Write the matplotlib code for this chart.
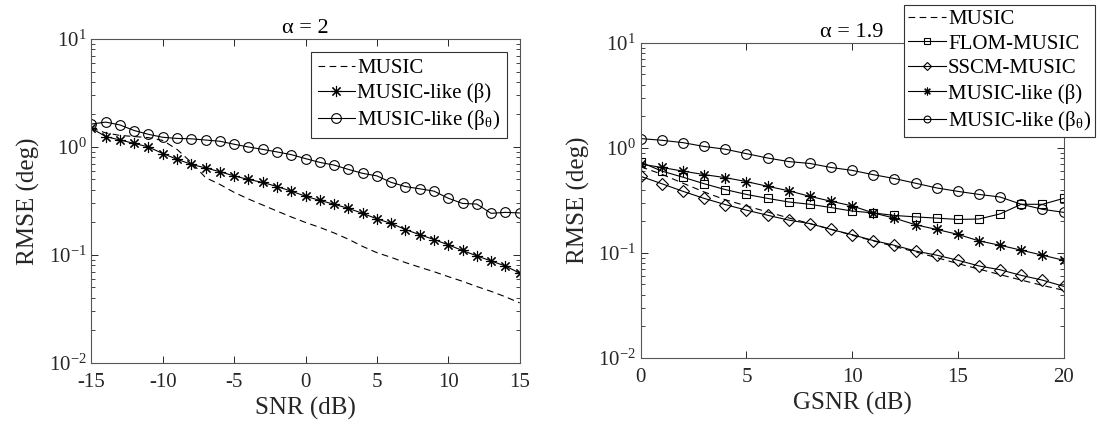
import numpy as np
import matplotlib
matplotlib.use("Agg")
import matplotlib.pyplot as plt

plt.rcParams['font.family'] = 'serif'
plt.rcParams['font.serif'] = ['Liberation Serif', 'DejaVu Serif']
plt.rcParams['mathtext.fontset'] = 'stix'
plt.rcParams['axes.unicode_minus'] = False

# ---- left panel: alpha = 2 ----
snr = np.arange(-15, 16)
music_l = [1.5, 1.35, 1.28, 1.25, 1.22, 1.15, 0.95, 0.72, 0.52, 0.45, 0.38,
           0.33, 0.29, 0.255, 0.225, 0.2, 0.18, 0.16, 0.14, 0.12, 0.105,
           0.095, 0.085, 0.077, 0.07, 0.063, 0.057, 0.051, 0.046, 0.041, 0.036]
beta_l = [1.49, 1.25, 1.16, 1.08, 1.0, 0.87, 0.77, 0.69, 0.64, 0.59, 0.54,
          0.50, 0.47, 0.43, 0.39, 0.35, 0.32, 0.295, 0.27, 0.243, 0.216,
          0.196, 0.172, 0.154, 0.139, 0.124, 0.11, 0.098, 0.088, 0.079, 0.068]
betath_l = [1.63, 1.70, 1.60, 1.42, 1.31, 1.23, 1.2, 1.19, 1.16, 1.13, 1.06,
            1.0, 0.95, 0.9, 0.85, 0.78, 0.72, 0.68, 0.62, 0.57, 0.54,
            0.47, 0.43, 0.41, 0.39, 0.335, 0.30, 0.296, 0.243, 0.248, 0.245]

# ---- right panel: alpha = 1.9 ----
gsnr = np.arange(0, 21)
music_r = [0.66, 0.56, 0.46, 0.38, 0.32, 0.28, 0.245, 0.215, 0.19, 0.168,
           0.147, 0.13, 0.115, 0.102, 0.09, 0.079, 0.07, 0.062, 0.055, 0.049, 0.044]
flom_r = [0.73, 0.60, 0.525, 0.455, 0.40, 0.36, 0.33, 0.305, 0.29, 0.27,
          0.25, 0.24, 0.227, 0.22, 0.214, 0.208, 0.21, 0.235, 0.29, 0.29, 0.33]
sscm_r = [0.535, 0.455, 0.385, 0.33, 0.288, 0.255, 0.228, 0.205, 0.19, 0.167,
          0.149, 0.131, 0.118, 0.104, 0.095, 0.085, 0.075, 0.069, 0.061, 0.055, 0.048]
beta_r = [0.70, 0.65, 0.60, 0.556, 0.52, 0.477, 0.43, 0.39, 0.345, 0.31,
          0.28, 0.24, 0.214, 0.185, 0.167, 0.15, 0.13, 0.118, 0.106, 0.095, 0.085]
betath_r = [1.225, 1.18, 1.12, 1.03, 0.97, 0.88, 0.80, 0.74, 0.71, 0.65,
            0.61, 0.555, 0.51, 0.46, 0.415, 0.385, 0.36, 0.34, 0.29, 0.26, 0.243]

lab_beta = 'MUSIC-like (β)'
lab_betath = r'MUSIC-like (β$_{\mathregular{θ}}$)'

axc = '#262626'
ast = (8, 2, 0)   # matlab style asterisk
lw = 0.8


def style(ax, xlim, xticks):
    ax.set_yscale('log')
    ax.set_ylim(1e-2, 1e1)
    ax.set_xlim(*xlim)
    ax.set_xticks(xticks)
    ax.tick_params(which='both', direction='in', top=True, right=True,
                   colors=axc, labelsize=15)
    ax.tick_params(which='major', length=5, width=0.7)
    ax.tick_params(which='minor', length=3, width=0.6)
    ax.tick_params(axis='x', which='both', pad=7)
    ax.tick_params(axis='x', which='minor', bottom=False, top=False)
    for s in ax.spines.values():
        s.set_color('#555555')
        s.set_linewidth(0.8)
    ax.set_ylabel('RMSE (deg)', fontsize=18, color=axc, labelpad=6)


legkw = dict(fontsize=15, handlelength=1.8, handletextpad=0.1,
             labelspacing=0.25, fancybox=False, framealpha=1,
             edgecolor='#333333', borderaxespad=0)

fig = plt.figure(figsize=(11.01, 4.24), dpi=100)

ax1 = fig.add_axes([0.083, 0.144, 0.389, 0.764])
ax1.plot(snr, music_l, '--', color='k', lw=lw, dashes=(6, 4), label='MUSIC')
ax1.plot(snr, beta_l, '-', color='k', lw=lw, marker=ast, ms=8, mew=0.8,
         label=lab_beta)
ax1.plot(snr, betath_l, '-', color='k', lw=lw, marker='o', ms=7, mfc='none',
         mew=0.8, label=lab_betath)
style(ax1, (-15, 15), [-15, -10, -5, 0, 5, 10, 15])
ax1.set_xlabel('SNR (dB)', fontsize=18, color=axc)
ax1.set_title('α = 2', fontsize=16, color='k', pad=4)
leg1 = ax1.legend(loc='upper right', bbox_to_anchor=(0.97, 0.96),
                  borderpad=0.3, **legkw)
leg1.get_frame().set_linewidth(0.8)

ax2 = fig.add_axes([0.582, 0.156, 0.384, 0.743])
ax2.plot(gsnr, music_r, '--', color='k', lw=lw, dashes=(6, 4), label='MUSIC')
ax2.plot(gsnr, flom_r, '-', color='k', lw=lw, marker='s', ms=6, mfc='none',
         mew=0.8, label='FLOM-MUSIC')
ax2.plot(gsnr, sscm_r, '-', color='k', lw=lw, marker='D', ms=6, mfc='none',
         mew=0.8, label='SSCM-MUSIC')
ax2.plot(gsnr, beta_r, '-', color='k', lw=lw, marker=ast, ms=8, mew=0.8,
         label=lab_beta)
ax2.plot(gsnr, betath_r, '-', color='k', lw=lw, marker='o', ms=7, mfc='none',
         mew=0.8, label=lab_betath)
style(ax2, (0, 20), [0, 5, 10, 15, 20])
ax2.set_xlabel('GSNR (dB)', fontsize=18, color=axc)
ax2.set_title('α = 1.9', fontsize=16, color='k', pad=4)
leg2 = fig.legend(*ax2.get_legend_handles_labels(), loc='upper right',
                  bbox_to_anchor=(0.995, 0.988), markerscale=0.7,
                  borderpad=0.2, **legkw)
leg2.get_frame().set_linewidth(0.8)

fig.savefig('out.png', dpi=100)
